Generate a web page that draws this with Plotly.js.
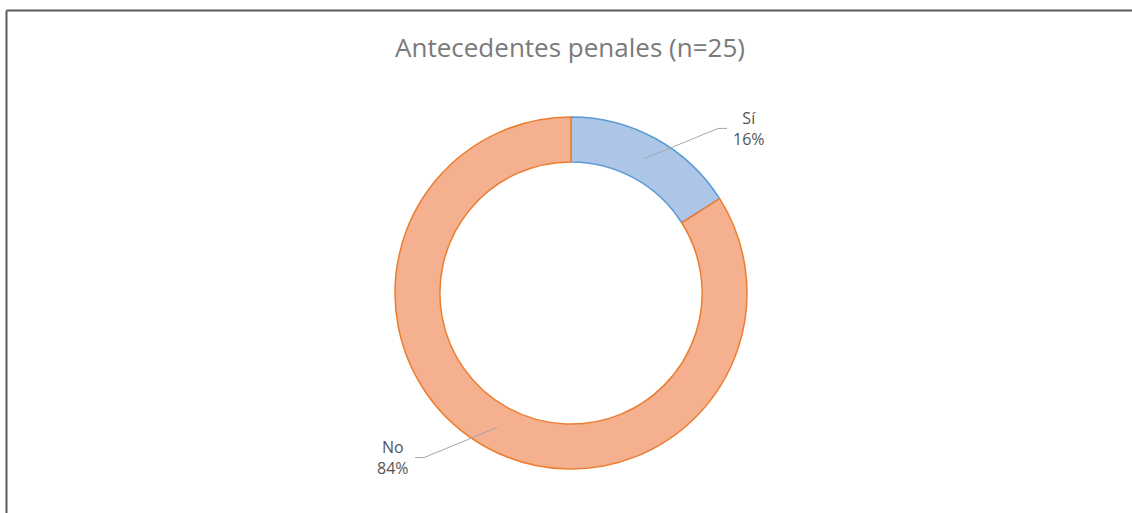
<!DOCTYPE html>
<html>
<head>
<meta charset="utf-8">
<script src="https://cdn.plot.ly/plotly-3.0.1.min.js"></script>
<style>
  html, body { margin: 0; padding: 0; background: #ffffff; }
  #chart { width: 1132px; height: 513px; }
</style>
</head>
<body>
<div id="chart"></div>
<script>
// Data
const categories = ['Sí', 'No'];
const counts = [4, 21];
const sliceColors = ['#adc6e8', '#f5b08f'];
const edgeColors = ['#5b9bd5', '#ed7d31'];
const chartTitle = 'Antecedentes penales (n=25)';

// Page geometry (pixels)
const W = 1132, H = 513;
const cx = 571, cy = 293, rOut = 176, holeFrac = 0.745;
const px = x => x / W;
const py = y => 1 - y / H;

const total = counts.reduce((a, b) => a + b, 0);

// Leader lines and labels follow each slice's mid angle (clockwise from 12 o'clock)
const shapes = [];
const annotations = [];
let start = 0;
const rMid = rOut * (1 + holeFrac) / 2;
counts.forEach((v, i) => {
  const frac = v / total;
  const mid = (start + frac / 2) * 2 * Math.PI;
  start += frac;
  const sx = cx + rMid * Math.sin(mid);
  const sy = cy - rMid * Math.cos(mid);
  const sgnX = Math.sin(mid) >= 0 ? 1 : -1;
  const sgnY = Math.cos(mid) >= 0 ? -1 : 1;
  const ex = sx + sgnX * 73, ey = sy + sgnY * 30;
  const hx = ex + sgnX * 9;
  shapes.push({
    type: 'path', xref: 'paper', yref: 'paper',
    path: `M ${px(sx)} ${py(sy)} L ${px(ex)} ${py(ey)} L ${px(hx)} ${py(ey)}`,
    line: { color: '#a6a6a6', width: 1 }
  });
  const pct = Math.round(frac * 100) + '%';
  annotations.push({
    xref: 'paper', yref: 'paper',
    x: px(hx + sgnX * 22), y: py(ey),
    xanchor: 'center', yanchor: 'middle',
    text: categories[i] + '<br>' + pct,
    showarrow: false, align: 'center',
    font: { family: 'Open Sans, sans-serif', size: 16, color: '#555555' }
  });
});

// Outer frame: top and left edges
shapes.push({ type: 'line', xref: 'paper', yref: 'paper',
  x0: px(6.5), x1: 1, y0: py(10.5), y1: py(10.5),
  line: { color: '#5a5a5a', width: 2 } });
shapes.push({ type: 'line', xref: 'paper', yref: 'paper',
  x0: px(6.5), x1: px(6.5), y0: py(10.5), y1: 0,
  line: { color: '#5a5a5a', width: 2 } });

const trace = {
  type: 'pie',
  labels: categories,
  values: counts,
  hole: holeFrac,
  sort: false,
  direction: 'clockwise',
  rotation: 0,
  textinfo: 'none',
  hoverinfo: 'label+percent',
  marker: { colors: sliceColors, line: { color: edgeColors, width: 1.5 } },
  domain: { x: [px(cx - rOut), px(cx + rOut)], y: [py(cy + rOut), py(cy - rOut)] },
  showlegend: false
};

const layout = {
  width: W, height: H,
  margin: { l: 0, r: 0, t: 0, b: 0 },
  paper_bgcolor: '#ffffff',
  title: {
    text: chartTitle,
    x: px(570), xref: 'paper', xanchor: 'center',
    y: py(48), yref: 'paper', yanchor: 'middle',
    font: { family: 'Open Sans, sans-serif', size: 26, color: '#7a7a7a' }
  },
  shapes: shapes,
  annotations: annotations
};

Plotly.newPlot('chart', [trace], layout, { displayModeBar: false, staticPlot: true });
</script>
</body>
</html>
